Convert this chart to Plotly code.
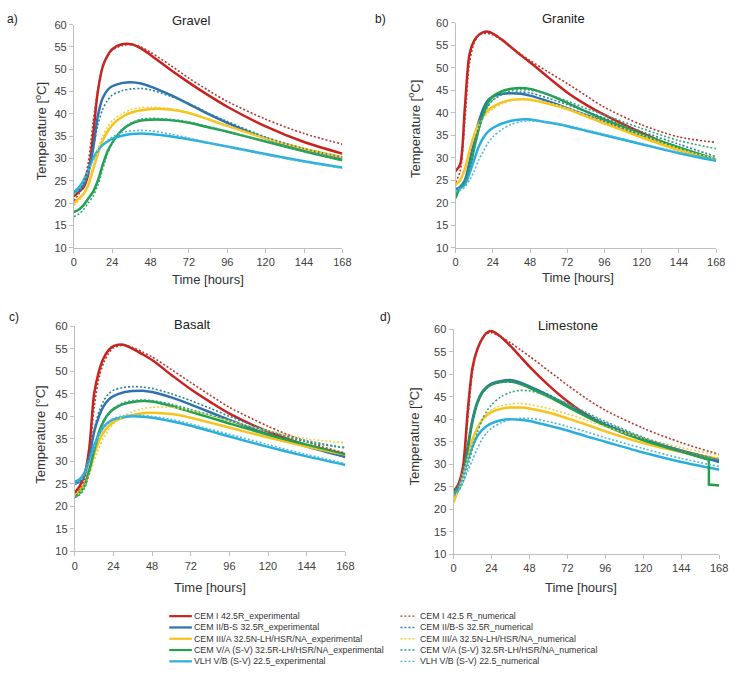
import plotly.graph_objects as go

W, H = 738, 687

# ---------------- data ----------------
hours = [0, 3, 6, 9, 12, 15, 18, 21, 24, 30, 36, 42, 48, 60, 72, 84, 96, 120, 144, 168]
x_tick_vals = [0, 24, 48, 72, 96, 120, 144, 168]
y_tick_vals = [10, 15, 20, 25, 30, 35, 40, 45, 50, 55, 60]

panel_titles = ["Gravel", "Granite", "Basalt", "Limestone"]
panel_letters = ["a)", "b)", "c)", "d)"]

exp_names = ["CEM I 42.5R_experimental", "CEM II/B-S 32.5R_experimental",
             "CEM III/A 32.5N-LH/HSR/NA_experimental",
             "CEM V/A (S-V) 32.5R-LH/HSR/NA_experimental",
             "VLH V/B (S-V) 22.5_experimental"]
num_names = ["CEM I 42.5 R_numerical", "CEM II/B-S 32.5R_numerical",
             "CEM III/A 32.5N-LH/HSR/NA_numerical",
             "CEM V/A (S-V) 32.5R-LH/HSR/NA_numerical",
             "VLH V/B (S-V) 22.5_numerical"]

# Gravel
gravel_cem1_exp = [21.5, 22.5, 23.5, 26.5, 35, 45, 50.5, 53, 54.5, 55.6, 55.6, 54.7, 53.2, 50, 47, 44.2, 41.6, 37.2, 33.7, 31.1]
gravel_cem1_num = [20.5, 22, 24, 29, 38, 45.5, 50.5, 53, 54.3, 55.3, 55.5, 55, 53.8, 51, 48, 45.3, 42.8, 38.8, 35.6, 33.2]
gravel_cem2_exp = [22.5, 23, 24, 27, 32, 39.5, 43.5, 45.3, 46.2, 46.9, 47.1, 46.8, 46.1, 44.3, 42.2, 40, 38, 34.5, 32, 30]
gravel_cem2_num = [22, 22.5, 23.5, 27, 32, 37.5, 41, 43, 44.2, 45.2, 45.6, 45.7, 45.4, 44, 42.3, 40.2, 38.3, 34.8, 32.2, 30.3]
gravel_cem3_exp = [20, 21, 22, 24, 27.5, 31, 34, 36, 37.5, 39.3, 40.3, 40.8, 41.1, 41, 40.2, 38.8, 37.3, 34.5, 32.2, 30.3]
gravel_cem3_num = [19.5, 20.5, 22, 24.5, 28, 32, 35, 37, 38.5, 40, 41, 41.4, 41.5, 41.2, 40.3, 38.8, 37.3, 34.5, 32.2, 30.2]
gravel_cem5_exp = [18, 18.5, 19.5, 21, 22.5, 25, 28.5, 31.5, 33.5, 36.3, 37.8, 38.5, 38.7, 38.6, 38, 37, 36, 33.8, 31.6, 29.6]
gravel_cem5_num = [17, 17.5, 18.5, 20, 21.5, 24, 27.5, 31, 33.5, 36.5, 38, 38.8, 39, 38.8, 38.2, 37.2, 36.1, 33.8, 31.6, 29.6]
gravel_vlh_exp = [22.5, 23.5, 25, 27.5, 30, 31.8, 33, 33.8, 34.4, 35.1, 35.5, 35.6, 35.5, 35, 34.3, 33.5, 32.7, 31, 29.4, 28]
gravel_vlh_num = [22, 23, 24.5, 27, 29.5, 31.5, 33, 34, 34.8, 35.8, 36.2, 36.3, 36.2, 35.5, 34.6, 33.6, 32.6, 30.8, 29.2, 27.8]

# Granite
granite_cem1_exp = [27, 28.5, 41, 53, 56, 57.3, 57.9, 58, 57.6, 56.2, 54.5, 52.8, 51.2, 47.8, 44.5, 41.8, 39.5, 35.5, 32, 29.5]
granite_cem1_num = [24.5, 27, 38, 51, 55.5, 57.2, 57.6, 57.6, 57.3, 56, 54.5, 53, 51.6, 49, 46.5, 43.8, 41.2, 37.3, 34.6, 33.4]
granite_cem2_exp = [23, 23.5, 25, 29, 34, 38, 41, 42.8, 43.6, 44.2, 44.3, 44.2, 43.8, 42.5, 41, 39.5, 38, 35, 32.2, 29.5]
granite_cem2_num = [23, 23.5, 24.5, 28, 32.5, 36.5, 39.5, 41.5, 42.8, 44, 44.5, 44.6, 44.4, 43.2, 41.8, 40.3, 38.8, 35.8, 33, 30.2]
granite_cem3_exp = [24, 25, 27.5, 31.5, 35, 37.5, 39.3, 40.5, 41.3, 42.3, 42.8, 43, 42.9, 42, 40.8, 39.2, 37.6, 34.5, 31.7, 29.5]
granite_cem3_num = [24, 25, 27, 31, 34.5, 37, 38.8, 40, 40.8, 42, 42.7, 43, 43, 42.2, 41, 39.5, 38, 35, 32, 29.7]
granite_cem5_exp = [21, 23.5, 24.5, 27.5, 32, 36.5, 40, 42.3, 43.6, 44.8, 45.3, 45.5, 45.3, 44, 42.2, 40.3, 38.5, 35.2, 32.3, 29.6]
granite_cem5_num = [22, 23, 24.5, 28, 32, 36, 39.3, 41.5, 42.8, 44.3, 44.9, 45.1, 45, 44, 42.6, 41, 39.5, 36.5, 33.8, 32]
granite_vlh_exp = [23, 23.3, 24, 26.5, 29.5, 32.5, 34.5, 35.8, 36.6, 37.6, 38.2, 38.5, 38.5, 37.8, 37, 36, 35, 33, 31, 29.3]
granite_vlh_num = [22.5, 22.8, 23.5, 25, 27, 29.5, 31.5, 33.3, 34.6, 36.3, 37.4, 38, 38.2, 37.9, 37.2, 36.2, 35.2, 33.2, 31.2, 29.6]

# Basalt
basalt_cem1_exp = [23, 24.5, 27, 33, 45, 50, 53, 54.7, 55.6, 55.9, 55, 53.8, 52.5, 49.2, 46, 43.2, 40.6, 36.6, 33.6, 31]
basalt_cem1_num = [23, 24, 26, 31, 42, 48.5, 52, 54, 55.2, 55.8, 55.3, 54.3, 53.2, 50.4, 47.5, 44.7, 42, 37.8, 34.3, 31.8]
basalt_cem2_exp = [25, 25.5, 27, 31, 36.5, 40, 42.3, 43.7, 44.5, 45.3, 45.6, 45.7, 45.4, 44.2, 42.6, 40.9, 39.2, 36, 33.3, 31]
basalt_cem2_num = [25, 25.5, 27, 31, 37, 41, 43.5, 45, 45.8, 46.4, 46.6, 46.5, 46.2, 45, 43.5, 41.8, 40, 36.8, 34.3, 33]
basalt_cem3_exp = [22, 23.5, 25, 28, 31.5, 34.5, 36.5, 37.8, 38.7, 39.7, 40.3, 40.7, 40.8, 40.5, 39.7, 38.6, 37.5, 35.3, 33.3, 31.5]
basalt_cem3_num = [22, 23, 24.5, 27, 30, 33, 35.3, 37, 38.3, 40, 41, 41.7, 42, 42, 41.3, 40.2, 39, 36.8, 35, 34.1]
basalt_cem5_exp = [22, 23, 24.5, 28, 32.5, 36.5, 39, 40.6, 41.6, 42.7, 43.2, 43.4, 43.3, 42.3, 41, 39.7, 38.4, 35.9, 33.7, 31.6]
basalt_cem5_num = [22, 22.5, 24, 27.5, 32, 36, 38.8, 40.6, 41.8, 43, 43.5, 43.6, 43.5, 42.7, 41.5, 40.3, 39, 36.6, 34.6, 33]
basalt_vlh_exp = [25.5, 26, 27.5, 30.5, 33.5, 36, 37.7, 38.7, 39.3, 39.8, 40, 39.9, 39.7, 38.9, 37.9, 36.7, 35.5, 33.2, 31.1, 29.2]
basalt_vlh_num = [25, 25.5, 27, 30, 33, 35.8, 37.6, 38.8, 39.5, 40.1, 40.3, 40.2, 40, 39.3, 38.3, 37.1, 36, 33.7, 31.5, 29.5]

# Limestone
limestone_cem1_exp = [24, 25.5, 29.5, 42, 51.5, 55.5, 57.8, 59.2, 59.6, 58.3, 56.3, 54, 51.7, 47.6, 44, 41, 38.7, 35.5, 33, 31]
limestone_cem1_num = [24, 25.5, 29, 40, 50.5, 55.5, 58, 59, 59.2, 58.3, 57, 55.5, 54, 50.8, 47.6, 44.6, 42, 38, 34.8, 32.2]
limestone_cem2_exp = [24, 25, 28, 34, 40, 43.8, 46, 47.2, 47.9, 48.5, 48.7, 48.2, 47.3, 45.3, 43, 40.8, 38.8, 35.5, 32.8, 30.5]
limestone_cem2_num = [23.5, 24.5, 27.5, 33.5, 39.5, 43.3, 45.7, 47, 47.7, 48.2, 48.3, 48, 47.3, 45.5, 43.3, 41.2, 39.2, 35.8, 33, 31]
limestone_cem3_exp = [21.5, 24.5, 28, 32, 35.5, 38, 39.8, 40.9, 41.6, 42.3, 42.6, 42.6, 42.4, 41.5, 40.2, 38.8, 37.3, 34.7, 32.7, 31.2]
limestone_cem3_num = [22.5, 24, 27.5, 31.5, 35, 37.8, 39.8, 41.2, 42.1, 43, 43.4, 43.5, 43.3, 42.4, 41.2, 39.8, 38.3, 35.8, 33.7, 32]
limestone_cem5_exp = [24, 25, 28, 33.5, 39.5, 43.5, 45.8, 47, 47.7, 48.3, 48.4, 47.9, 47, 45, 42.8, 40.6, 38.6, 35.3, 32.8, None]
limestone_cem5_exp_tail_hours = [144, 156, 161.5, 161.5, 168]
limestone_cem5_exp_tail = [32.8, 31.5, 31.0, 25.5, 25.3]
limestone_cem5_num = [23.5, 24, 26, 29.5, 33.5, 37, 39.8, 41.8, 43.2, 45, 46, 46.4, 46.3, 45.2, 43.5, 41.5, 39.5, 36, 33.2, 31]
limestone_vlh_exp = [23, 24.5, 27.5, 31, 34, 36.2, 37.6, 38.5, 39.1, 39.8, 40, 39.9, 39.6, 38.6, 37.5, 36.2, 35, 32.6, 30.5, 28.8]
limestone_vlh_num = [23, 24, 26, 28.5, 31, 33.5, 35.5, 37, 38, 39.2, 39.9, 40.2, 40.2, 39.5, 38.4, 37.2, 35.9, 33.5, 31.3, 29.5]

# ---------------- styling ----------------
exp_colors = ["#c9211e", "#2e72b0", "#f7c21a", "#22a14a", "#2aaedc"]
num_colors = ["#b5382f", "#2f7f96", "#efd145", "#37a382", "#4bbad9"]
FONT = "Liberation Sans, Arial, sans-serif"
DOT = "2px,2px"

panels = [
    ([gravel_cem1_exp, gravel_cem2_exp, gravel_cem3_exp, gravel_cem5_exp, gravel_vlh_exp],
     [gravel_cem1_num, gravel_cem2_num, gravel_cem3_num, gravel_cem5_num, gravel_vlh_num]),
    ([granite_cem1_exp, granite_cem2_exp, granite_cem3_exp, granite_cem5_exp, granite_vlh_exp],
     [granite_cem1_num, granite_cem2_num, granite_cem3_num, granite_cem5_num, granite_vlh_num]),
    ([basalt_cem1_exp, basalt_cem2_exp, basalt_cem3_exp, basalt_cem5_exp, basalt_vlh_exp],
     [basalt_cem1_num, basalt_cem2_num, basalt_cem3_num, basalt_cem5_num, basalt_vlh_num]),
    ([limestone_cem1_exp, limestone_cem2_exp, limestone_cem3_exp, limestone_cem5_exp, limestone_vlh_exp],
     [limestone_cem1_num, limestone_cem2_num, limestone_cem3_num, limestone_cem5_num, limestone_vlh_num]),
]

# plot-area pixel boxes (left, right, top, bottom)
boxes = [(72, 345, 19, 246), (460, 725, 17, 246), (73, 348, 326, 555), (458, 728, 329, 558)]
title_pos = [(191, 15), (570, 13), (193, 324), (574, 325)]
letter_pos = [(10, 13), (384, 13), (11, 317), (389, 317)]
xtitle_pos = [(208, 278), (584, 276), (210, 592), (588, 592)]
ytitle_pos = [(38, 127), (418, 125), (38, 436), (418, 438)]
ytitle_text = ["Temperature [<sup>o</sup>C]", "Temperature [<sup>o</sup>C]",
               "Temperature [°C]", "Temperature [<sup>o</sup>C]"]


def fx(p):
    return p / W


def fy(p):
    return 1 - p / H


fig = go.Figure()
layout = dict(width=W, height=H, margin=dict(l=0, r=0, t=0, b=0),
              paper_bgcolor="white", plot_bgcolor="white", showlegend=False,
              font=dict(family=FONT, color="#333"))
annotations = []
shapes = []

for i, (exps, nums) in enumerate(panels):
    sfx = "" if i == 0 else str(i + 1)
    xa, ya = "x" + sfx, "y" + sfx
    for k in range(5):
        fig.add_trace(go.Scatter(x=hours, y=exps[k], mode="lines", xaxis=xa, yaxis=ya,
                                 line=dict(color=exp_colors[k], width=2.5, shape="spline", smoothing=0.8),
                                 name=exp_names[k], connectgaps=False))
    if i == 3:
        fig.add_trace(go.Scatter(x=limestone_cem5_exp_tail_hours, y=limestone_cem5_exp_tail,
                                 mode="lines", xaxis=xa, yaxis=ya,
                                 line=dict(color=exp_colors[3], width=2.5), name=exp_names[3]))
    for k in range(5):
        fig.add_trace(go.Scatter(x=hours, y=nums[k], mode="lines", xaxis=xa, yaxis=ya,
                                 line=dict(color=num_colors[k], width=1.6, dash=DOT, shape="spline", smoothing=0.8),
                                 name=num_names[k]))
    l, r, t, b = boxes[i]
    axis_common = dict(showline=True, linecolor="#bfbfbf", linewidth=1, ticks="outside",
                       ticklen=4, tickcolor="#bfbfbf", showgrid=False, zeroline=False,
                       tickfont=dict(size=11, color="#404040", family=FONT), fixedrange=True)
    layout["xaxis" + sfx] = dict(domain=[fx(l), fx(r)], anchor=ya, range=[0, 168],
                                 tickvals=x_tick_vals, **axis_common)
    layout["yaxis" + sfx] = dict(domain=[fy(b), fy(t)], anchor=xa, range=[10, 60],
                                 tickvals=y_tick_vals, **axis_common)
    annotations.append(dict(text=panel_titles[i], x=fx(title_pos[i][0]), y=fy(title_pos[i][1]),
                            xref="paper", yref="paper", showarrow=False, xanchor="center", yanchor="middle",
                            font=dict(size=13, color="#222")))
    annotations.append(dict(text=panel_letters[i], x=fx(letter_pos[i][0]), y=fy(letter_pos[i][1]),
                            xref="paper", yref="paper", showarrow=False, xanchor="center", yanchor="middle",
                            font=dict(size=12, color="#222")))
    annotations.append(dict(text="Time [hours]", x=fx(xtitle_pos[i][0]), y=fy(xtitle_pos[i][1]),
                            xref="paper", yref="paper", showarrow=False, xanchor="center", yanchor="middle",
                            font=dict(size=13, color="#333")))
    annotations.append(dict(text=ytitle_text[i], x=fx(ytitle_pos[i][0]), y=fy(ytitle_pos[i][1]),
                            xref="paper", yref="paper", showarrow=False, xanchor="center", yanchor="middle",
                            textangle=-90, font=dict(size=13, color="#333")))

# manual legend (two columns)
legend_rows = [621, 632.5, 644, 655.5, 667]
for k in range(5):
    yy = fy(legend_rows[k])
    shapes.append(dict(type="line", xref="paper", yref="paper", x0=fx(169), x1=fx(192), y0=yy, y1=yy,
                       line=dict(color=exp_colors[k], width=2.2)))
    shapes.append(dict(type="line", xref="paper", yref="paper", x0=fx(404), x1=fx(420), y0=yy, y1=yy,
                       line=dict(color=num_colors[k], width=1.4, dash=DOT)))
    annotations.append(dict(text=exp_names[k], x=fx(192), y=yy, xref="paper", yref="paper",
                            showarrow=False, xanchor="left", yanchor="middle",
                            font=dict(size=8.8, color="#333")))
    annotations.append(dict(text=num_names[k], x=fx(422), y=yy, xref="paper", yref="paper",
                            showarrow=False, xanchor="left", yanchor="middle",
                            font=dict(size=8.8, color="#333")))

layout["annotations"] = annotations
layout["shapes"] = shapes
fig.update_layout(**layout)
fig.write_html("out.html", config={"displayModeBar": False},
               post_script="document.body.style.margin='0';document.body.style.overflow='hidden';")
